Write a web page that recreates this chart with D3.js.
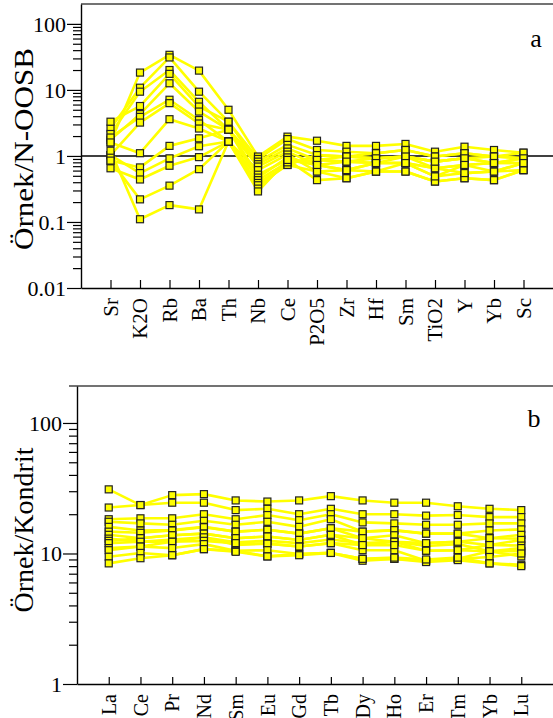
<!DOCTYPE html>
<html>
<head>
<meta charset="utf-8">
<script src="https://cdn.jsdelivr.net/npm/d3@7"></script>
<style>
  body { margin: 0; background: #fff; }
</style>
</head>
<body>
<svg id="chart" width="553" height="718"></svg>
<script>
// panel a : N-OOSB normalised
const elementsA = ["Sr", "K2O", "Rb", "Ba", "Th", "Nb", "Ce", "P2O5", "Zr", "Hf", "Sm", "TiO2", "Y", "Yb", "Sc"];
const samplesA = [
  [1.6, 18.3, 34, 19.6, 5.0, 0.98, 1.96, 1.7, 1.42, 1.42, 1.52, 1.16, 1.38, 1.23, 1.12],
  [2.6, 10.8, 31, 9.4, 3.3, 0.9, 1.8, 1.23, 1.16, 1.1, 1.23, 0.98, 1.1, 0.98, 0.92],
  [2.15, 9.4, 20, 6.6, 2.5, 0.82, 1.47, 1.03, 0.98, 0.92, 0.98, 0.82, 0.92, 0.98, 0.92],
  [3.3, 5.7, 17.5, 5.6, 3.3, 0.75, 1.3, 0.87, 0.82, 0.78, 0.98, 0.65, 0.73, 0.78, 0.78],
  [1.75, 4.3, 12.6, 4.7, 2.5, 0.69, 1.16, 0.73, 0.61, 0.58, 0.78, 0.49, 0.55, 0.58, 0.61],
  [1.9, 3.9, 7.1, 3.5, 1.65, 0.61, 1.05, 0.58, 0.46, 0.58, 0.58, 0.41, 0.46, 0.43, 0.61],
  [1.03, 3.2, 6.3, 3.1, 2.5, 0.52, 0.87, 0.43, 0.46, 0.58, 0.58, 0.41, 0.46, 0.43, 0.61],
  [1.6, 1.1, 3.6, 2.6, 1.65, 0.47, 0.95, 0.73, 0.61, 0.78, 0.78, 0.65, 0.73, 0.58, 0.78],
  [0.85, 0.67, 1.42, 1.85, 2.5, 0.43, 0.8, 0.87, 0.82, 0.92, 0.98, 0.82, 0.92, 0.78, 0.92],
  [1.03, 0.55, 0.92, 1.4, 1.65, 0.39, 0.73, 1.03, 0.98, 1.1, 1.23, 0.98, 1.1, 0.98, 1.12],
  [0.65, 0.44, 0.71, 0.96, 1.65, 0.36, 0.73, 0.58, 0.61, 0.78, 0.78, 0.65, 0.55, 0.58, 0.78],
  [0.85, 0.22, 0.355, 0.63, 1.65, 0.32, 0.8, 0.87, 0.98, 0.92, 0.98, 0.82, 0.92, 0.78, 0.92],
  [1.2, 0.11, 0.18, 0.155, 1.65, 0.29, 0.87, 0.73, 0.82, 0.78, 0.78, 0.49, 0.73, 0.78, 0.78]
];
const ticksA = [0.01, 0.1, 1, 10, 100];
const tickLabelsA = ["0.01", "0.1", "1", "10", "100"];

// panel b : kondrit normalised REE
const elementsB = ["La", "Ce", "Pr", "Nd", "Sm", "Eu", "Gd", "Tb", "Dy", "Ho", "Er", "Tm", "Yb", "Lu"];
const samplesB = [
  [31, 23.5, 28, 28.5, 25.5, 25, 25.5, 27.5, 25.5, 24.5, 24.5, 23, 22, 21.5],
  [22.5, 23.5, 24.5, 24.5, 21.5, 22, 20, 22, 20, 20, 19.5, 19.7, 19, 19],
  [18.3, 18.6, 18.6, 20, 18.3, 19.7, 18, 20, 17.3, 17, 16.6, 16.6, 17, 17],
  [17.5, 17, 16.6, 17.8, 16.6, 17.5, 16, 18.3, 14.7, 15, 14.2, 14.2, 15, 15.3],
  [16, 15, 15.1, 16, 14.7, 15.2, 14.2, 15.6, 14.7, 15.1, 14.2, 14.2, 13.1, 13],
  [14.7, 14.4, 15, 15.9, 14.7, 15.2, 14.2, 15.6, 13.1, 13.8, 12, 12.3, 13.1, 13.9],
  [13.9, 13.1, 13.8, 14.2, 13.1, 13.5, 12.7, 13.9, 11.6, 12.3, 10.5, 10.6, 11.6, 12.7],
  [13, 12.3, 12.8, 13.3, 12.2, 12.5, 12.0, 12.8, 12, 12.3, 11.4, 11.8, 10.4, 10.4],
  [12.5, 13.1, 13.8, 14.2, 13.1, 13.5, 12.7, 13.9, 13.1, 12.3, 12, 12.3, 11.6, 11.5],
  [12, 12.3, 12.3, 13.3, 11.6, 11.9, 11.3, 12, 10.6, 10.6, 8.8, 9.1, 10.4, 11],
  [11, 11.3, 12.3, 12.5, 12, 11.9, 11.3, 12, 11.6, 11.6, 10.5, 10.6, 10.4, 9.5],
  [10.6, 11.3, 11, 11.8, 10.5, 10.6, 9.9, 10.1, 9.1, 9.1, 8.8, 9.1, 9.4, 10],
  [9.45, 10.1, 9.7, 10.8, 10.5, 9.5, 9.9, 10.1, 8.8, 9.1, 8.6, 8.9, 8.4, 8.2],
  [8.4, 9.2, 9.7, 10.8, 10.3, 9.5, 9.7, 10.1, 9.1, 9.3, 9, 9.3, 8.4, 8]
];
const ticksB = [1, 10, 100];
const tickLabelsB = ["1", "10", "100"];

const serif = "'Liberation Serif'";
const svg = d3.select("#chart");

function minorTicks(domain) {
  let out = [];
  let lo = Math.floor(Math.log10(domain[0]));
  let hi = Math.ceil(Math.log10(domain[1]));
  for (let e = lo; e < hi; e++) {
    for (let m = 2; m <= 9; m++) {
      let v = m * Math.pow(10, e);
      if (v > domain[0] && v < domain[1]) out.push(v);
    }
  }
  return out;
}

function drawPanel(p) {
  let x = d3.scalePoint().domain(p.cats).range([p.left, p.right]).padding(1);
  let y = d3.scaleLog().domain(p.yDomain).range([p.bottom, p.top]);

  let g = svg.append("g");

  // cadre haut
  g.append("line")
    .attr("x1", p.topStart).attr("x2", p.right)
    .attr("y1", p.top).attr("y2", p.top)
    .attr("stroke", "#444").attr("stroke-width", 1.5);

  if (p.refLine) {
    g.append("line")
      .attr("x1", p.left).attr("x2", p.right)
      .attr("y1", y(p.refLine)).attr("y2", y(p.refLine))
      .attr("stroke", "#000").attr("stroke-width", 1.4);
  }

  // axe y : grands et petits traits
  let yMinor = g.append("g")
    .attr("transform", "translate(" + p.left + ",0)")
    .call(d3.axisLeft(y).tickValues(minorTicks(p.yDomain)).tickSize(8).tickFormat(""));
  yMinor.select(".domain").remove();

  let yMajor = g.append("g")
    .attr("transform", "translate(" + p.left + ",0)")
    .call(d3.axisLeft(y).tickValues(p.yTicks).tickSize(14).tickSizeOuter(0).tickPadding(1)
      .tickFormat(function (d, i) { return p.yTickLabels[i]; }));
  yMajor.selectAll("text")
    .style("font-family", serif)
    .style("font-size", "22px")
    .attr("dy", "0.34em");

  // axe x
  let xAxis = g.append("g")
    .attr("transform", "translate(0," + p.bottom + ")")
    .call(d3.axisBottom(x).tickSize(-p.xTick).tickSizeOuter(0));
  xAxis.selectAll("text")
    .style("font-family", serif)
    .style("font-size", p.xFont + "px")
    .attr("transform", "rotate(-90)")
    .attr("x", -10).attr("y", 0).attr("dy", "0.33em")
    .style("text-anchor", "end");

  g.selectAll(".domain").attr("stroke", "#000").attr("stroke-width", 1.4);
  g.selectAll(".tick line").attr("stroke", "#000").attr("stroke-width", 1.2);

  // lignes des échantillons
  let line = d3.line()
    .x(function (d, i) { return x(p.cats[i]); })
    .y(function (d) { return y(d); });

  g.append("g").selectAll("path")
    .data(p.samples).enter()
    .append("path")
    .attr("d", line)
    .attr("fill", "none")
    .attr("stroke", "#ffff00")
    .attr("stroke-width", 2.6)
    .attr("stroke-linejoin", "round");

  let s = 7;
  p.samples.forEach(function (row) {
    g.append("g").selectAll("rect")
      .data(row).enter()
      .append("rect")
      .attr("x", function (d, i) { return x(p.cats[i]) - s / 2; })
      .attr("y", function (d) { return y(d) - s / 2; })
      .attr("width", s).attr("height", s)
      .attr("fill", "#ffff00")
      .attr("stroke", "#222")
      .attr("stroke-width", 1.2);
  });

  // titre axe y
  g.append("text")
    .attr("transform", "translate(" + p.titleX + "," + p.titleY + ") rotate(-90)")
    .attr("text-anchor", "middle")
    .attr("textLength", p.titleLen)
    .attr("lengthAdjust", "spacingAndGlyphs")
    .style("font-family", serif)
    .style("font-size", p.titleSize + "px")
    .text(p.title);

  g.append("text")
    .attr("x", p.tagX).attr("y", p.tagY)
    .attr("text-anchor", "middle")
    .style("font-family", serif)
    .style("font-size", "26px")
    .text(p.tag);
}

drawPanel({
  cats: elementsA, samples: samplesA,
  left: 81, right: 553, top: 4, bottom: 288, topStart: 81,
  yDomain: [0.01, 200], yTicks: ticksA, yTickLabels: tickLabelsA,
  refLine: 1, xTick: 8, xFont: 21,
  title: "Örnek/N-OOSB", titleX: 33, titleY: 149, titleLen: 202, titleSize: 28,
  tag: "a", tagX: 536, tagY: 47
});

drawPanel({
  cats: elementsB, samples: samplesB,
  left: 77, right: 553, top: 386, bottom: 684, topStart: 69,
  yDomain: [1, 192], yTicks: ticksB, yTickLabels: tickLabelsB,
  refLine: null, xTick: 7, xFont: 20,
  title: "Örnek/Kondrit", titleX: 33, titleY: 530, titleLen: 165, titleSize: 28,
  tag: "b", tagX: 534, tagY: 427
});
</script>
</body>
</html>
